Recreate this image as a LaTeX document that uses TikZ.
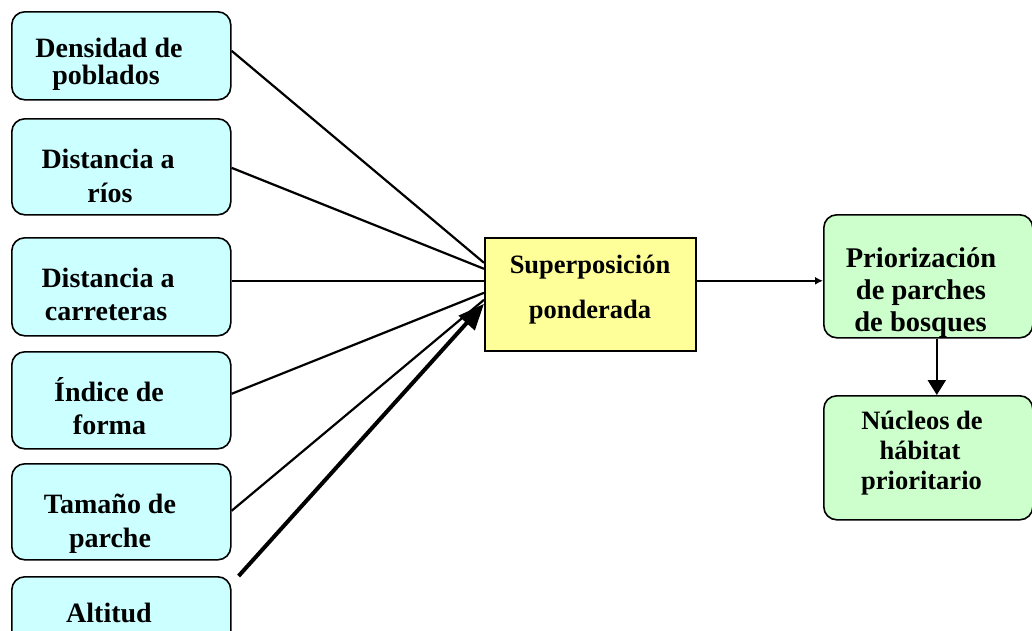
\documentclass[tikz,border=0pt]{standalone}
\usepackage{fontspec}
\setmainfont{Liberation Serif}
\usetikzlibrary{arrows.meta}
\definecolor{cyanfill}{HTML}{CCFFFF}
\definecolor{greenfill}{HTML}{CCFFCC}
\definecolor{yellowfill}{HTML}{FFFF99}
\begin{document}
\begin{tikzpicture}[x=1pt,y=-1pt,
  box/.style={draw=black,line width=1.6pt,rounded corners=13pt,anchor=north west,inner sep=0pt},
  inbox/.style={box,fill=cyanfill,minimum width=219pt},
  outbox/.style={box,fill=greenfill,minimum width=209pt},
  midbox/.style={draw=black,line width=1.6pt,fill=yellowfill,anchor=north west,inner sep=0pt,minimum width=211pt,minimum height=113pt},
  lbl/.style={anchor=base,inner sep=0pt,font=\bfseries\fontsize{28}{30}\selectfont},
  lblm/.style={lbl,font=\bfseries\fontsize{26.5}{30}\selectfont},
  lblr/.style={lbl,font=\bfseries\fontsize{28.5}{30}\selectfont},
  lbln/.style={lbl,font=\bfseries\fontsize{26.5}{30}\selectfont},
  conn/.style={line width=2.2pt},
  bigarrow/.style={line width=4pt,-{Triangle[length=26pt,width=21pt]}},
  smallarrow/.style={line width=2.2pt,-{Latex[length=8pt,width=8pt]}},
  downarrow/.style={line width=2.2pt,-{Triangle[length=15pt,width=18pt]}}]
\useasboundingbox (0,0) rectangle (1032,630);
\clip (0,0) rectangle (1032,630);

% input boxes
\node[inbox,minimum height=88pt] (b1) at (11,11) {};
\node[inbox,minimum height=96pt] (b2) at (11,118) {};
\node[inbox,minimum height=98pt] (b3) at (11,237) {};
\node[inbox,minimum height=97pt] (b4) at (11,351) {};
\node[inbox,minimum height=96pt] (b5) at (11,463) {};
\node[inbox,minimum height=100pt] (b6) at (11,576) {};

% central box
\node[midbox] (m) at (484,237) {};

% output boxes
\node[outbox,minimum height=123pt] (p) at (823,214) {};
\node[outbox,minimum height=124pt] (n) at (823,395) {};

% connectors
\draw[conn] ([yshift=5pt]b1.east) -- ([yshift=31.5pt]m.west);
\draw[conn] ([yshift=-1pt]b2.east) -- ([yshift=25.5pt]m.west);
\draw[conn] ([yshift=6pt]b3.east) -- ([yshift=13.5pt]m.west);
\draw[conn] ([yshift=6.5pt]b4.east) -- ([yshift=1.5pt]m.west);
\draw[conn] ([yshift=1pt]b5.east) -- ([yshift=-5.5pt]m.west);
\draw[bigarrow] ([xshift=7pt]b6.north east) -- ([yshift=-9.5pt]m.west);
\draw[smallarrow] ([yshift=13.5pt]m.east) -- ([yshift=-4.5pt]p.west);
\draw[downarrow] ([xshift=8.5pt]p.south) -- ([xshift=8.5pt]n.north);

% labels
\node[lbl] (t1a) at (109,57) {Densidad de};
\node[lbl] (t1b) at (106,84) {poblados};
\node[lbl] (t2a) at (108,168) {Distancia a};
\node[lbl] (t2b) at (110,202) {ríos};
\node[lbl] (t3a) at (108,287) {Distancia a};
\node[lbl] (t3b) at (106,320) {carreteras};
\node[lbl] (t4a) at (109,401) {Índice de};
\node[lbl] (t4b) at (109.5,434) {forma};
\node[lbl] (t5a) at (110,513) {Tamaño de};
\node[lbl] (t5b) at (110,547) {parche};
\node[lbl] (t6a) at (109,622) {Altitud};

\node[lblm] (tma) at (590,273) {Superposición};
\node[lblm] (tmb) at (590,318) {ponderada};

\node[lblr] (tpa) at (921,267) {Priorización};
\node[lblr] (tpb) at (921,299) {de parches};
\node[lblr] (tpc) at (920.5,331) {de bosques};

\node[lbln] (tna) at (922,429) {Núcleos de};
\node[lbln] (tnb) at (920,459) {hábitat};
\node[lbln] (tnc) at (921.5,489) {prioritario};
\end{tikzpicture}
\end{document}
